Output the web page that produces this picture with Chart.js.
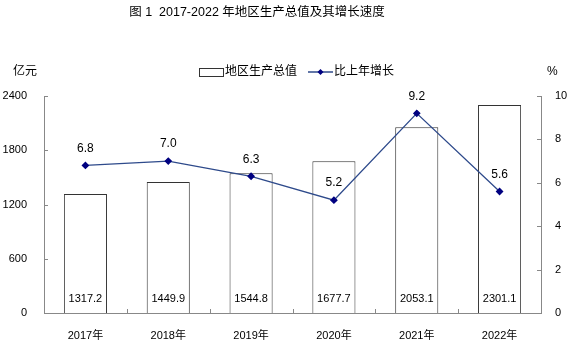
<!DOCTYPE html>
<html>
<head>
<meta charset="utf-8">
<script src="https://cdn.jsdelivr.net/npm/chart.js@4/dist/chart.umd.min.js"></script>
<style>
  html, body { margin: 0; padding: 0; background: #fff; }
  #wrap { width: 576px; height: 349px; }
</style>
</head>
<body>
<div id="wrap"><canvas id="c" width="576" height="349"></canvas></div>
<script>
const years = ["2017年", "2018年", "2019年", "2020年", "2021年", "2022年"];
const gdp = [1317.2, 1449.9, 1544.8, 1677.7, 2053.1, 2301.1];
const growth = [6.8, 7.0, 6.3, 5.2, 9.2, 5.6];

const FONT = "Arial, 'Liberation Sans', 'Noto Sans CJK SC', sans-serif";
const AXIS = "#888888";

// title, units, legend, tick marks and value labels
const decor = {
    id: "decor",
    afterDraw(chart) {
        const ctx = chart.ctx;
        const area = chart.chartArea;
        const x = chart.scales.x, yl = chart.scales.y, yr = chart.scales.y1;
        ctx.save();
        ctx.fillStyle = "#000";
        ctx.textBaseline = "middle";

        ctx.font = "12.5px " + FONT;
        ctx.textAlign = "center";
        ctx.fillText("图 1  2017-2022 年地区生产总值及其增长速度", 257, 13);

        ctx.font = "12px " + FONT;
        ctx.textAlign = "left";
        ctx.fillText("亿元", 13, 72);
        ctx.fillText("%", 547, 72);

        // legend
        ctx.strokeStyle = "#333";
        ctx.lineWidth = 1;
        ctx.strokeRect(199.5, 68.5, 24, 8);
        ctx.fillText("地区生产总值", 225, 72);
        ctx.strokeStyle = "#2E4A8B";
        ctx.lineWidth = 1.5;
        ctx.beginPath();
        ctx.moveTo(308, 72);
        ctx.lineTo(333, 72);
        ctx.stroke();
        ctx.fillStyle = "#000080";
        ctx.beginPath();
        ctx.moveTo(320.5, 69); ctx.lineTo(323.5, 72); ctx.lineTo(320.5, 75); ctx.lineTo(317.5, 72);
        ctx.closePath();
        ctx.fill();
        ctx.fillStyle = "#000";
        ctx.fillText("比上年增长", 334, 72);

        // inside tick marks
        ctx.strokeStyle = AXIS;
        ctx.lineWidth = 1;
        ctx.beginPath();
        yl.ticks.forEach(t => {
            const py = Math.round(yl.getPixelForValue(t.value)) + 0.5;
            ctx.moveTo(area.left, py); ctx.lineTo(area.left + 4, py);
        });
        yr.ticks.forEach(t => {
            const py = Math.round(yr.getPixelForValue(t.value)) + 0.5;
            ctx.moveTo(area.right, py); ctx.lineTo(area.right - 4, py);
        });
        for (let i = 1; i < years.length; i++) {
            const px = Math.round((x.getPixelForValue(i - 1) + x.getPixelForValue(i)) / 2) + 0.5;
            ctx.moveTo(px, area.bottom); ctx.lineTo(px, area.bottom - 4);
        }
        ctx.stroke();

        // value labels
        ctx.fillStyle = "#000";
        ctx.font = "11px " + FONT;
        ctx.textAlign = "center";
        chart.getDatasetMeta(0).data.forEach((el, i) => {
            ctx.fillText(gdp[i].toFixed(1), el.x, area.bottom - 14);
        });
        ctx.font = "12px " + FONT;
        chart.getDatasetMeta(1).data.forEach((el, i) => {
            ctx.fillText(growth[i].toFixed(1), el.x, el.y - 17);
        });
        ctx.restore();
    }
};

new Chart(document.getElementById("c"), {
    data: {
        labels: years,
        datasets: [
            {
                type: "bar",
                label: "地区生产总值",
                data: gdp,
                yAxisID: "y",
                backgroundColor: "#ffffff",
                borderColor: "#333333",
                borderWidth: 1,
                categoryPercentage: 1,
                barPercentage: 0.52,
                order: 2
            },
            {
                type: "line",
                label: "比上年增长",
                data: growth,
                yAxisID: "y1",
                borderColor: "#2E4A8B",
                borderWidth: 1.3,
                pointStyle: "rectRot",
                pointRadius: 3,
                pointBackgroundColor: "#000080",
                pointBorderColor: "#000080",
                tension: 0,
                order: 1
            }
        ]
    },
    options: {
        responsive: false,
        animation: false,
        layout: { padding: { top: 96, left: 0, right: 0, bottom: 0 } },
        plugins: { legend: { display: false }, tooltip: { enabled: false } },
        scales: {
            x: {
                offset: true,
                grid: { display: false },
                border: { display: true, color: AXIS },
                ticks: { color: "#000", font: { size: 11, family: FONT }, padding: 8 },
                afterFit(s) { s.height = 36; }
            },
            y: {
                position: "left",
                min: 0, max: 2400,
                grid: { display: false },
                border: { display: true, color: AXIS },
                ticks: { stepSize: 600, color: "#000", font: { size: 11, family: FONT }, padding: 9,
                         callback: v => String(v) },
                afterFit(s) { s.width = 44; }
            },
            y1: {
                position: "right",
                min: 0, max: 10,
                grid: { display: false },
                border: { display: true, color: AXIS },
                ticks: { stepSize: 2, color: "#000", font: { size: 11, family: FONT }, padding: 6,
                         callback: v => String(v) },
                afterFit(s) { s.width = 35; }
            }
        }
    },
    plugins: [decor]
});
</script>
</body>
</html>
